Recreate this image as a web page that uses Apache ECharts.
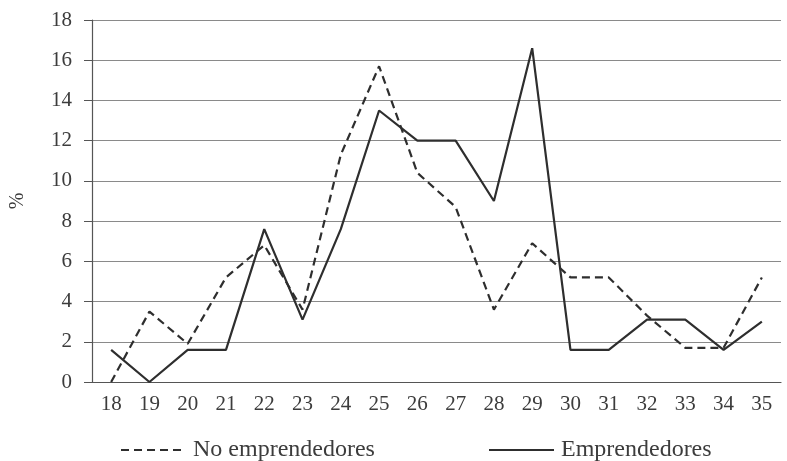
<!DOCTYPE html>
<html>
<head>
<meta charset="utf-8">
<script src="https://cdn.jsdelivr.net/npm/echarts@6/dist/echarts.min.js"></script>
<style>html,body{margin:0;padding:0;background:#fff}#c{width:787px;height:461px}</style>
</head>
<body>
<div id="c"></div>
<script>
var ages = ['18','19','20','21','22','23','24','25','26','27','28','29','30','31','32','33','34','35'];
var noEmprendedores = [0, 3.5, 1.9, 5.2, 6.8, 3.6, 11.3, 15.7, 10.4, 8.7, 3.6, 6.9, 5.2, 5.2, 3.3, 1.7, 1.7, 5.2];
var emprendedores   = [1.6, 0, 1.6, 1.6, 7.6, 3.1, 7.6, 13.5, 12.0, 12.0, 9.0, 16.6, 1.6, 1.6, 3.1, 3.1, 1.6, 3.0];
var seriesNames = ['No emprendedores', 'Emprendedores'];

var font = 'Liberation Serif';
var textColor = '#3c3c3c';
var legendCommon = {
  top: 433, itemWidth: 65, itemHeight: 14, itemGap: 10,
  itemStyle: {color: 'rgba(0,0,0,0)', borderColor: 'rgba(0,0,0,0)', borderWidth: 0, opacity: 0},
  textStyle: {fontFamily: font, fontSize: 24, color: textColor, padding: [0, 0, 0, 2]}
};
var chart = echarts.init(document.getElementById('c'));
chart.setOption({
  animation: false,
  backgroundColor: '#fff',
  grid: {left: 83, right: 6, top: 20, bottom: 79},
  legend: [
    Object.assign({data: [seriesNames[0]], left: 115}, legendCommon),
    Object.assign({data: [seriesNames[1]], left: 483}, legendCommon)
  ],
  xAxis: {
    type: 'category', data: ages, boundaryGap: true,
    axisLine: {show: true, lineStyle: {color: '#555', width: 1.2}},
    axisTick: {show: false},
    axisLabel: {fontFamily: font, fontSize: 21, color: textColor, margin: 12}
  },
  yAxis: {
    type: 'value', min: 0, max: 18, interval: 2,
    name: '%', nameLocation: 'middle', nameRotate: 90, nameGap: 64,
    nameTextStyle: {fontFamily: font, fontSize: 20, color: textColor},
    axisLine: {show: true, lineStyle: {color: '#555', width: 1.2}},
    axisTick: {show: true, length: 8, lineStyle: {color: '#555'}},
    axisLabel: {fontFamily: font, fontSize: 21, color: textColor, margin: 20},
    splitLine: {show: true, lineStyle: {color: '#8a8a8a', width: 1.2}}
  },
  series: [
    {name: seriesNames[0], type: 'line', data: noEmprendedores, symbol: 'none',
     lineStyle: {color: '#2e2e2e', width: 2.2, type: [8, 5]}, itemStyle: {color: '#2e2e2e'}},
    {name: seriesNames[1], type: 'line', data: emprendedores, symbol: 'none',
     lineStyle: {color: '#2e2e2e', width: 2.2, type: 'solid'}, itemStyle: {color: '#2e2e2e'}}
  ]
});
</script>
</body>
</html>
